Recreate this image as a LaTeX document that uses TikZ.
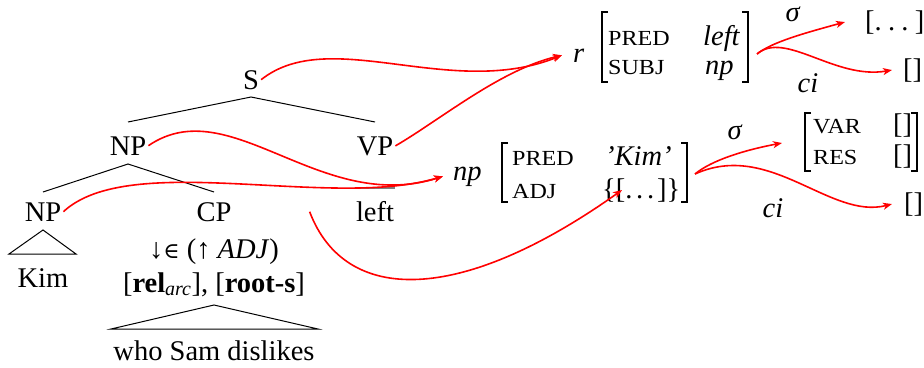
\documentclass[tikz,border=0pt]{standalone}
\usepackage{fontspec}
\setmainfont{Liberation Serif}
\newfontfamily\scf[FakeStretch=1.12]{Liberation Serif}
\newfontfamily\symf{DejaVu Serif}
\usetikzlibrary{arrows.meta}
\newcommand\smc[1]{{\scf\fontsize{21.5}{24}\selectfont #1}}
\newcommand\dotsx{.\kern0.22em.\kern0.22em.\kern0.22em}
\newcommand\dotsy{.\kern0.13em.\kern0.13em.\kern0.1em}
\begin{document}
\begin{tikzpicture}[x=1pt,y=-1pt,font=\fontsize{28.5}{34}\selectfont,
  tn/.style={anchor=base,inner sep=2pt},
  lt/.style={anchor=base west,inner sep=0pt},
  lbl/.style={anchor=base,inner sep=0pt},
  tree/.style={line width=1pt},
  br/.style={line width=1.2pt},
  fx/.style={draw=red,line width=1.6pt,-{Stealth[length=9pt,width=7pt,inset=2.5pt]}}]
\useasboundingbox (0,0) rectangle (924,367);
% tree
\node[tn] (S) at (251,89) {S};
\node[tn] (NPa) at (128,155) {NP};
\node[tn] (VP) at (375,155) {VP};
\node[tn] (NPb) at (43,221) {NP};
\node[tn] (CP) at (214,221) {CP};
\node[tn] (left) at (375,221) {left};
\node[tn] (Kim) at (43,287) {Kim};
\node[tn] (ann1) at (214,258) {↓{\symf\fontsize{22}{24}\selectfont ∈} (↑ \textit{ADJ})};
\node[tn] (ann2) at (214,292) {[\textbf{rel}\textsubscript{\textit{arc}}], [\textbf{root-s}]};
\node[tn] (who) at (214,360) {who Sam dislikes};
\draw[tree] ([yshift=33pt]NPa.base) -- ([yshift=-8pt]S.base) -- ([yshift=33pt]VP.base);
\draw[tree] ([yshift=29pt]NPb.base) -- ([yshift=-9pt]NPa.base) -- ([yshift=29pt]CP.base);
\draw[tree] ([yshift=-9pt]NPb.base) -- ([shift={(-34pt,33pt)}]Kim.base) -- ([shift={(33pt,33pt)}]Kim.base) -- cycle;
\draw[tree] ([yshift=-13pt]ann2.base) -- ([shift={(-103pt,31pt)}]who.base) -- ([shift={(104pt,31pt)}]who.base) -- cycle;
\draw[gray,line width=1.6pt] ([shift={(-20pt,33pt)}]left.base) -- ([shift={(20pt,33pt)}]left.base);
% AVM 1
\node[lt] (r) at (573,62) {\textit{r}};
\node[lt] (pred1) at (608,45) {\smc{PRED}};
\node[lt] (subj1) at (608,74) {\smc{SUBJ}};
\node[lt] (v11) at (703,45) {\textit{left}};
\node[lt] (v12) at (705,74) {\textit{np}};
\draw[br] (608,12) -- (602,12) -- (602,82) -- (608,82);
\draw[br] (742,12) -- (748,12) -- (748,82) -- (742,82);
% AVM 2
\node[lt] (npn) at (453,180) {\textit{np}};
\node[lt] (pred2) at (512,165) {\smc{PRED}};
\node[lt] (adj2) at (512,198) {\smc{ADJ}};
\node[lt] (kimv) at (605,165) {\textit{'Kim'}};
\node[lt] (adjv) at (602,198) {\{[\dotsy]\}};
\draw[br] (508,143) -- (502,143) -- (502,202) -- (508,202);
\draw[br] (681,143) -- (687,143) -- (687,202) -- (681,202);
% AVM 3
\node[lt] (var) at (813,133) {\smc{VAR}};
\node[lt] (res) at (813,164) {\smc{RES}};
\node[lt] (e1) at (893,133) {[]};
\node[lt] (e2) at (893,164) {[]};
\draw[br] (811,113) -- (805,113) -- (805,171) -- (811,171);
\draw[br] (911,113) -- (917,113) -- (917,171) -- (911,171);
% others
\node[lt] (dots) at (865,30) {[\dotsx]};
\node[lt] (e3) at (903,78) {[]};
\node[lt] (e4) at (904,212) {[]};
\node[lbl] (sig1) at (793,21) {\textit{σ}};
\node[lbl] (ci1) at (808,92) {\textit{ci}};
\node[lbl] (sig2) at (735,139) {\textit{σ}};
\node[lbl] (ci2) at (773,217) {\textit{ci}};
\coordinate (adjin) at (622,190);
\coordinate (o1) at (757,54);
\coordinate (o2) at (695,174);
\coordinate (avm3in) at (782,143);
% connectors
\draw[fx] (S.east) .. controls (330,25) and (450,100) .. ([xshift=-11pt]r.west);
\draw[fx] (VP.east) .. controls (440,120) and (500,70) .. ([xshift=-11pt]r.west);
\draw[fx] (NPa.east) .. controls (230,90) and (320,215) .. ([xshift=-10pt]npn.west);
\draw[fx] (NPb.east) .. controls (130,150) and (330,210) .. ([xshift=-10pt]npn.west);
\draw[fx] ([xshift=76pt]CP.east) .. controls (345,305) and (460,305) .. (adjin);
\draw[fx] (o1) .. controls (772,42) and (805,33) .. ([xshift=-20pt]dots.west);
\draw[fx] (o1) .. controls (785,30) and (835,80) .. ([xshift=-11pt]e3.west);
\draw[fx] (o2) .. controls (712,160) and (745,150) .. (avm3in);
\draw[fx] (o2) .. controls (770,140) and (830,220) .. ([xshift=-12pt]e4.west);
\end{tikzpicture}
\end{document}
